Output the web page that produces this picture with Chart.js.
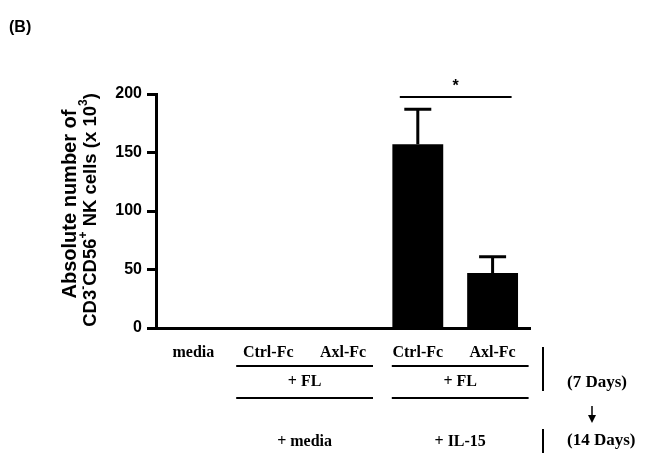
<!DOCTYPE html>
<html>
<head>
<meta charset="utf-8">
<script src="https://cdn.jsdelivr.net/npm/chart.js@4"></script>
<style>
html,body{margin:0;padding:0;background:#fff;}
#wrap{width:651px;height:471px;position:relative;}
</style>
</head>
<body>
<div id="wrap"><canvas id="c" width="651" height="471"></canvas></div>
<script>
const categories = ['media', 'Ctrl-Fc', 'Axl-Fc', 'Ctrl-Fc', 'Axl-Fc'];
const counts = [0, 0, 0, 157, 47];
const sem = [0, 0, 0, 30, 14];
const yTickValues = [0, 50, 100, 150, 200];
const panelLabel = '(B)';
const yTitleLine1 = 'Absolute number of';
const yTitleLine2 = [['CD3', false], ['-', true], ['CD56', false], ['+', true], [' NK cells (x 10', false], ['3', true], [')', false]];
const fcGroupLabel = ['+ FL', '+ FL'];
const secondStepLabels = ['+ media', '+ IL-15'];
const dayLabels = ['(7 Days)', '(14 Days)'];
const sigLabel = '*';
const sigLevel = 197.5;

const SANS = "'Liberation Sans', Arial, sans-serif";
const SERIF = "'Liberation Serif', 'Times New Roman', serif";

const annotations = {
  id: 'annotations',
  afterDatasetsDraw(chart) {
    const ctx = chart.ctx;
    const ys = chart.scales.y;
    const meta = chart.getDatasetMeta(0);
    ctx.save();
    ctx.strokeStyle = '#000';
    ctx.fillStyle = '#000';
    // error bars
    ctx.lineWidth = 3;
    sem.forEach((e, i) => {
      if (!e) return;
      const bx = meta.data[i].x;
      const y0 = ys.getPixelForValue(counts[i]);
      const y1 = ys.getPixelForValue(counts[i] + e);
      ctx.beginPath();
      ctx.moveTo(bx, y0);
      ctx.lineTo(bx, y1);
      ctx.moveTo(bx - 13.5, y1);
      ctx.lineTo(bx + 13.5, y1);
      ctx.stroke();
    });
    // significance bar
    const sy = ys.getPixelForValue(sigLevel);
    const sx0 = meta.data[3].x - 18, sx1 = meta.data[4].x + 19;
    ctx.lineWidth = 2;
    ctx.beginPath();
    ctx.moveTo(sx0, sy);
    ctx.lineTo(sx1, sy);
    ctx.stroke();
    ctx.font = 'bold 16px ' + SANS;
    ctx.textAlign = 'center';
    ctx.textBaseline = 'middle';
    ctx.fillText(sigLabel, (sx0 + sx1) / 2, sy - 10);
    ctx.restore();
  },
  afterDraw(chart) {
    const ctx = chart.ctx;
    const xs = chart.scales.x;
    const area = chart.chartArea;
    ctx.save();
    ctx.fillStyle = '#000';
    ctx.strokeStyle = '#000';
    // panel label
    ctx.font = 'bold 16px ' + SANS;
    ctx.textAlign = 'left';
    ctx.textBaseline = 'middle';
    ctx.fillText(panelLabel, 9, 28);

    // y title (rotated, two lines)
    const cy = (area.top + area.bottom) / 2;
    ctx.save();
    ctx.translate(70, cy);
    ctx.rotate(-Math.PI / 2);
    ctx.font = 'bold 20px ' + SANS;
    ctx.textAlign = 'center';
    ctx.textBaseline = 'middle';
    ctx.fillText(yTitleLine1, 7, 0);
    // second line with superscripts
    const mainF = 'bold 18.5px ' + SANS, supF = 'bold 12px ' + SANS;
    let total = 0;
    yTitleLine2.forEach(([t, sup]) => { ctx.font = sup ? supF : mainF; total += ctx.measureText(t).width; });
    let px = -total / 2 + 1;
    ctx.textAlign = 'left';
    yTitleLine2.forEach(([t, sup]) => {
      ctx.font = sup ? supF : mainF;
      ctx.fillText(t, px, 21 + (sup ? -7 : 0));
      px += ctx.measureText(t).width;
    });
    ctx.restore();

    // group annotation below axis
    const c = i => xs.getPixelForValue(i);
    const groups = [[c(1) - 32, c(2) + 30], [c(3) - 26, c(4) + 36]];
    ctx.lineWidth = 2;
    groups.forEach(([a, b]) => {
      ctx.beginPath();
      ctx.moveTo(a, 366); ctx.lineTo(b, 366);
      ctx.moveTo(a, 398); ctx.lineTo(b, 398);
      ctx.stroke();
    });
    ctx.font = 'bold 16px ' + SERIF;
    ctx.textAlign = 'center';
    ctx.textBaseline = 'middle';
    groups.forEach(([a, b], i) => {
      ctx.fillText(fcGroupLabel[i], (a + b) / 2, 382);
      ctx.fillText(secondStepLabels[i], (a + b) / 2, 442);
    });
    // right side markers
    const vx = area.right + 13;
    ctx.lineWidth = 2;
    ctx.beginPath();
    ctx.moveTo(vx, 347); ctx.lineTo(vx, 391);
    ctx.moveTo(vx, 429); ctx.lineTo(vx, 453);
    ctx.stroke();
    ctx.font = 'bold 17px ' + SERIF;
    ctx.textAlign = 'left';
    ctx.fillText(dayLabels[0], vx + 24, 383);
    ctx.fillText(dayLabels[1], vx + 24, 441);
    // arrow
    const ax = vx + 49;
    ctx.lineWidth = 1.5;
    ctx.beginPath();
    ctx.moveTo(ax, 406); ctx.lineTo(ax, 417);
    ctx.stroke();
    ctx.beginPath();
    ctx.moveTo(ax - 4, 415); ctx.lineTo(ax + 4, 415); ctx.lineTo(ax, 423);
    ctx.closePath();
    ctx.fill();
    ctx.restore();
  }
};

new Chart(document.getElementById('c'), {
  type: 'bar',
  data: {
    labels: categories,
    datasets: [{
      data: counts,
      backgroundColor: '#000',
      borderWidth: 0,
      barPercentage: 0.68,
      categoryPercentage: 1
    }]
  },
  options: {
    responsive: false,
    animation: false,
    events: [],
    layout: { padding: { top: 94, right: 121, left: 0, bottom: 0 } },
    plugins: { legend: { display: false }, tooltip: { enabled: false } },
    scales: {
      x: {
        afterFit: s => { s.height = 143; },
        grid: { display: false },
        border: { display: true, color: '#000', width: 3 },
        ticks: {
          color: '#000',
          padding: 7,
          maxRotation: 0,
          autoSkip: false,
          font: { family: SERIF, weight: 'bold', size: 16 }
        }
      },
      y: {
        min: 0,
        max: 200,
        afterFit: s => { s.width = 156; },
        afterBuildTicks: s => { s.ticks = yTickValues.map(v => ({ value: v })); },
        grid: { display: true, drawOnChartArea: false, drawTicks: true, tickLength: 9, tickWidth: 3, tickColor: '#000' },
        border: { display: true, color: '#000', width: 3 },
        ticks: {
          color: '#000',
          padding: 5,
          font: { family: SANS, weight: 'bold', size: 16 }
        }
      }
    }
  },
  plugins: [annotations]
});
</script>
</body>
</html>
